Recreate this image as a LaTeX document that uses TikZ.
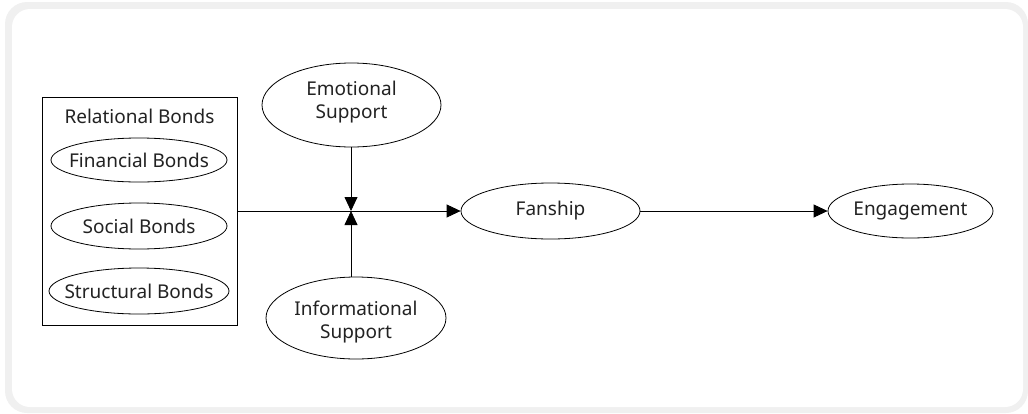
\documentclass[tikz,border=0pt]{standalone}
\usepackage{fontspec}
\setmainfont{Noto Sans}
\usetikzlibrary{shapes.geometric,arrows.meta}
\definecolor{framegray}{HTML}{F0F0F0}
\definecolor{txt}{HTML}{222222}
\begin{document}
\begin{tikzpicture}[x=1pt,y=-1pt,
  lbl/.style={text=txt, font=\fontsize{19}{23}\selectfont, align=center},
  oval/.style={draw, ellipse, line width=0.8pt, inner sep=0pt},
  link/.style={line width=0.8pt},
  arr/.style={link, -{Triangle[length=14pt,width=13pt]}}]
\useasboundingbox (0,0) rectangle (1028,413);
\fill[framegray, rounded corners=22pt] (5,2) rectangle (1028,413);
\fill[white, rounded corners=18pt] (12,9) rectangle (1023,407);
% relational bonds box
\node[draw, line width=0.8pt, minimum width=195pt, minimum height=228pt, inner sep=0pt] (rb) at (139.5,211) {};
\node[lbl] (rbt) at (139.5,116) {Relational Bonds};
\node[oval, minimum width=176pt, minimum height=44pt] (fin) at (139,160) {};
\node[lbl] (fint) at (fin) {Financial Bonds};
\node[oval, minimum width=176pt, minimum height=46pt] (soc) at (139,226) {};
\node[lbl] (soct) at (soc) {Social Bonds};
\node[oval, minimum width=180pt, minimum height=46pt] (str) at (139,291) {};
\node[lbl] (strt) at (str) {Structural Bonds};
% moderators
\node[oval, minimum width=179pt, minimum height=84pt] (emo) at (351.5,105) {};
\node[lbl] (emot) at ([yshift=3pt]emo.center) {Emotional\\Support};
\node[oval, minimum width=180pt, minimum height=82pt] (inf) at (356,318) {};
\node[lbl] (inft) at ([yshift=-4pt]inf.center) {Informational\\Support};
% outcomes
\node[oval, minimum width=179pt, minimum height=56pt] (fan) at (550.5,211) {};
\node[lbl] (fant) at (fan) {Fanship};
\node[oval, minimum width=165pt, minimum height=54pt] (eng) at (910.5,211) {};
\node[lbl] (engt) at (eng) {Engagement};
\coordinate (j) at (351,211);
\draw[arr] (rb.east) -- (fan.west);
\draw[arr] (emo.south -| j) -- (j);
\draw[arr] (j |- inf.north) -- (j);
\draw[arr] (fan.east) -- (eng.west);
\end{tikzpicture}
\end{document}
